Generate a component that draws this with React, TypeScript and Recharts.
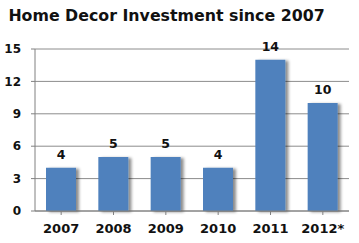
import { BarChart, Bar, XAxis, YAxis, CartesianGrid, LabelList } from "recharts";

const years = ["2007", "2008", "2009", "2010", "2011", "2012*"];
const investment = [4, 5, 5, 4, 14, 10];
const yTicks = [0, 3, 6, 9, 12, 15];

const rows = years.map((year, i) => ({ year, value: investment[i] }));

const font = "'DejaVu Sans', Verdana, sans-serif";
const tickStyle = { fill: "#111", fontSize: 12, fontWeight: 700, fontFamily: font };

export default function App() {
  return (
    <div style={{ position: "absolute", left: 0, top: 0, width: 359, height: 243, background: "#fff" }}>
      <svg width="0" height="0" style={{ position: "absolute" }}>
        <defs>
          <filter id="barShadow" x="-20%" y="-10%" width="160%" height="130%">
            <feDropShadow dx="3" dy="1" stdDeviation="1.5" floodColor="#000" floodOpacity="0.45" />
          </filter>
        </defs>
      </svg>
      <div
        style={{
          position: "absolute",
          left: 0,
          top: 6,
          width: 333,
          textAlign: "center",
          fontFamily: font,
          fontWeight: 700,
          fontSize: 15.8,
          color: "#111",
        }}
      >
        Home Decor Investment since 2007
      </div>
      <BarChart width={359} height={243} data={rows} margin={{ top: 49, right: 10, left: 0, bottom: 2 }}>
        <CartesianGrid vertical={false} stroke="#8c8c8c" />
        <XAxis
          dataKey="year"
          height={30}
          stroke="#808080"
          tickSize={4}
          tickMargin={9}
          tick={{ ...tickStyle, fontSize: 13 }}
          interval={0}
        />
        <YAxis
          domain={[0, 15]}
          ticks={yTicks}
          width={35}
          stroke="#808080"
          tickSize={4}
          tickMargin={10}
          tick={tickStyle}
        />
        <Bar dataKey="value" fill="#4f81bd" barSize={30} isAnimationActive={false} style={{ filter: "url(#barShadow)" }}>
          <LabelList dataKey="value" position="top" offset={9} style={{ ...tickStyle, fontSize: 12.5 }} />
        </Bar>
      </BarChart>
    </div>
  );
}
